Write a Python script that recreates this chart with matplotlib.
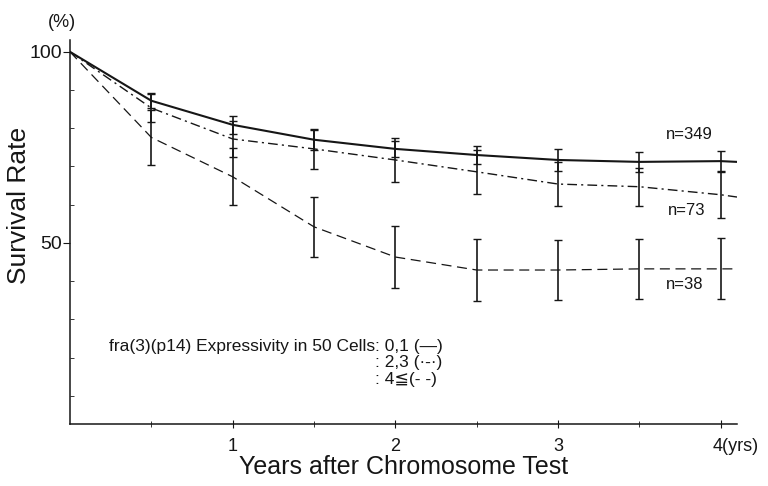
import matplotlib
matplotlib.use("Agg")
import matplotlib.pyplot as plt
from matplotlib.transforms import ScaledTranslation

plt.rcParams['font.family'] = ['Liberation Sans', 'DejaVu Sans']

# Years after chromosome test
years = [0, 0.5, 1, 1.5, 2, 2.5, 3, 3.5, 4, 4.1]
bar_years = [0.5, 1, 1.5, 2, 2.5, 3, 3.5, 4]

# Survival rate (%) by fra(3)(p14) expressivity group
surv_01 = [100, 87.2, 80.9, 77.0, 74.6, 73.0, 71.7, 71.2, 71.4, 71.2]
surv_23 = [100, 85.3, 77.2, 74.6, 71.7, 68.6, 65.4, 64.7, 62.6, 62.0]
surv_4p = [100, 77.6, 67.3, 54.2, 46.3, 42.9, 42.9, 43.2, 43.2, 43.2]

# Half-widths of the error bars (%)
err_01 = [2.0, 2.4, 2.6, 2.1, 2.4, 2.9, 2.6, 2.6]
err_23 = [3.6, 4.8, 5.2, 5.8, 5.8, 5.8, 5.0, 6.0]
err_4p = [7.2, 7.5, 7.9, 8.0, 8.1, 7.8, 7.8, 8.0]

group_n = ["n=349", "n=73", "n=38"]
legend_head = "fra(3)(p14) Expressivity in 50 Cells"
legend_keys = [": 0,1 (\u2014)", ": 2,3 (\u00b7-\u00b7)", ": 4\u2266(- -)"]

ink = "#161616"

fig = plt.figure(figsize=(7.68, 4.86), dpi=100)
ax = fig.add_axes([70/768, 1 - 424/486, 667/768, 384/486])

ax.plot(years, surv_01, color=ink, lw=1.5, ls='-')
ax.plot(years, surv_23, color=ink, lw=1.0, ls=(0, (7, 3, 1.5, 3)))
ax.plot(years, surv_4p, color=ink, lw=0.9, ls=(0, (8, 4.5)))

for vals, errs in ((surv_01, err_01), (surv_23, err_23), (surv_4p, err_4p)):
    ax.errorbar(bar_years, vals[1:9], yerr=errs, fmt='none', ecolor=ink,
                elinewidth=1.2, capsize=3.2, capthick=1.0)

label_pos = [(3.81, 78.3), (3.79, 58.6), (3.78, 39.0)]
for txt, (x, y) in zip(group_n, label_pos):
    ax.text(x, y, txt, ha='center', va='center', fontsize=12, color=ink)

# key block: the colons of all three rows share one column
key_x = 1.875
key_y = [23.0, 18.6, 14.2]
ax.text(key_x, key_y[0], legend_head, ha='right', va='center', fontsize=12.5, color=ink)
for txt, y in zip(legend_keys, key_y):
    ax.text(key_x, y, txt, ha='left', va='center', fontsize=12.5, color=ink)

ax.set_xlim(0, 4.1)
ax.set_ylim(2.6, 103.1)

for side in ('top', 'right'):
    ax.spines[side].set_visible(False)
for side in ('left', 'bottom'):
    ax.spines[side].set_linewidth(1.1)
    ax.spines[side].set_color(ink)

ax.set_xticks([1, 2, 3, 4])
ax.set_xticklabels(['1', '2', '3', '4(yrs)'])
ax.set_xticks([0.5, 1.5, 2.5, 3.5], minor=True)
ax.set_yticks([50, 100])
ax.set_yticks([10, 20, 30, 40, 60, 70, 80, 90], minor=True)

ax.tick_params(axis='x', which='major', direction='inout', length=6, width=0.8,
               labelsize=13, pad=7, colors=ink)
ax.tick_params(axis='x', which='minor', direction='inout', length=4, width=0.6, colors=ink)
ax.tick_params(axis='y', which='major', direction='out', length=5, width=0.8,
               labelsize=14, pad=1, colors=ink)
ax.tick_params(axis='y', which='minor', direction='in', length=3, width=0.6, colors=ink)

last = ax.get_xticklabels()[-1]
last.set_horizontalalignment('left')
last.set_transform(last.get_transform() + ScaledTranslation(-6/72, 0, fig.dpi_scale_trans))

ax.set_xlabel("Years after Chromosome Test", fontsize=18, color=ink, va='center')
ax.xaxis.set_label_coords(0.5, -0.112)
ax.set_ylabel("Survival Rate", fontsize=19, color=ink, va='center')
ax.yaxis.set_label_coords(-0.076, 0.57)

ax.text(-0.012, 1.046, "(%)", transform=ax.transAxes, ha='center', va='center',
        fontsize=13, color=ink)

fig.savefig("out.png", dpi=100)
